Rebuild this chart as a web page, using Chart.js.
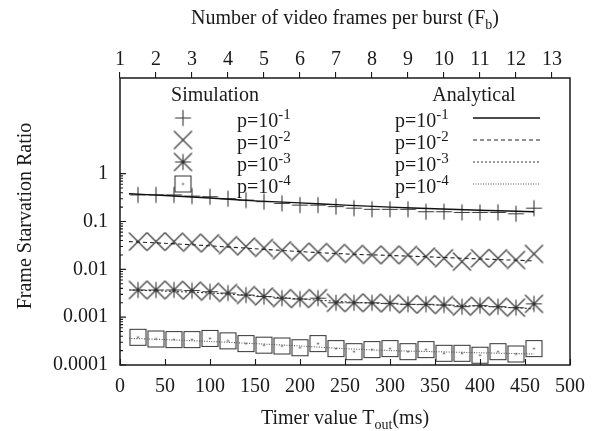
<!DOCTYPE html>
<html>
<head>
<meta charset="utf-8">
<script src="https://cdn.jsdelivr.net/npm/chart.js@4/dist/chart.umd.min.js"></script>
<style>
  html, body { margin: 0; padding: 0; background: #fff; }
  #wrap { width: 603px; height: 431px; }
</style>
</head>
<body>
<div id="wrap"><canvas id="c" width="603" height="431"></canvas></div>
<script>
// Timer values (ms) at which the simulation was run
const timerMs = [20, 40, 60, 80, 100, 120, 140, 160, 180, 200, 220, 240, 260, 280, 300, 320, 340, 360, 380, 400, 420, 440, 460];

// Simulated frame starvation ratio, one array per loss probability p
const simP1 = [0.36, 0.36, 0.36, 0.34, 0.33, 0.30, 0.28, 0.26, 0.24, 0.22, 0.22, 0.205, 0.19, 0.18, 0.18, 0.18, 0.16, 0.16, 0.155, 0.155, 0.155, 0.145, 0.19];
const simP2 = [0.038, 0.038, 0.038, 0.036, 0.035, 0.032, 0.030, 0.028, 0.025, 0.023, 0.023, 0.022, 0.021, 0.020, 0.020, 0.020, 0.0185, 0.017, 0.0145, 0.017, 0.017, 0.0157, 0.021];
const simP3 = [0.0037, 0.0037, 0.0037, 0.0036, 0.0034, 0.0032, 0.0029, 0.0027, 0.0025, 0.0024, 0.0025, 0.0020, 0.0020, 0.0020, 0.00195, 0.00186, 0.00186, 0.0018, 0.00166, 0.00174, 0.00166, 0.00158, 0.0019];
const simP4 = [0.00038, 0.00035, 0.00034, 0.00034, 0.00036, 0.00032, 0.00028, 0.00026, 0.00025, 0.00023, 0.00028, 0.00022, 0.00019, 0.00021, 0.00022, 0.00019, 0.00021, 0.000176, 0.000176, 0.00016, 0.00019, 0.00017, 0.00022];

// Analytical model curves
const analyticMs = [10, 50, 100, 150, 200, 250, 300, 350, 400, 460];
const anaP1 = [0.38, 0.35, 0.31, 0.27, 0.245, 0.22, 0.20, 0.185, 0.172, 0.16];
const anaP2 = [0.038, 0.035, 0.031, 0.027, 0.0235, 0.021, 0.0195, 0.018, 0.0165, 0.015];
const anaP3 = [0.0037, 0.0035, 0.0032, 0.0028, 0.0024, 0.0021, 0.0019, 0.0018, 0.0017, 0.0015];
const anaP4 = [0.00036, 0.00034, 0.00031, 0.00028, 0.00025, 0.00022, 0.0002, 0.00019, 0.00018, 0.00017];

// Axis ticks
const bottomTicks = [0, 50, 100, 150, 200, 250, 300, 350, 400, 450, 500];
const topTicks = [1, 2, 3, 4, 5, 6, 7, 8, 9, 10, 11, 12, 13];
const yTicks = [0.0001, 0.001, 0.01, 0.1, 1];
const yTickLabels = ['0.0001', '0.001', '0.01', '0.1', '1'];
const exponents = ['-1', '-2', '-3', '-4'];

const FONT = '"Liberation Serif", "Times New Roman", serif';
const INK = '#1a1a1a';
const MARK = '#333';

// ---- point glyphs ----
function glyph(kind) {
  const s = 21, c = s / 2;
  const cv = document.createElement('canvas');
  cv.width = s; cv.height = s;
  const g = cv.getContext('2d');
  g.strokeStyle = MARK; g.fillStyle = MARK; g.lineWidth = 1.1;
  g.beginPath();
  if (kind === 'plus' || kind === 'star') {
    g.moveTo(c - 8, c); g.lineTo(c + 8, c);
    g.moveTo(c, c - 8); g.lineTo(c, c + 8);
  }
  if (kind === 'cross' || kind === 'star') {
    g.moveTo(c - 9, c - 9); g.lineTo(c + 9, c + 9);
    g.moveTo(c - 9, c + 9); g.lineTo(c + 9, c - 9);
  }
  if (kind === 'box') {
    g.rect(c - 8, c - 8, 16, 16);
  }
  g.stroke();
  if (kind === 'box') g.fillRect(c - 0.8, c - 0.8, 1.6, 1.6);
  return cv;
}
const glyphs = [glyph('plus'), glyph('cross'), glyph('star'), glyph('box')];
const dashes = [[], [4, 3], [2, 2], [1, 1.5]];
const lineColors = ['#111', '#222', '#333', '#555'];

const pts = (xs, ys) => xs.map((x, i) => ({ x: x, y: ys[i] }));
const sims = [simP1, simP2, simP3, simP4];
const anas = [anaP1, anaP2, anaP3, anaP4];

const datasets = [];
anas.forEach((a, i) => datasets.push({
  label: 'Analytical p=10' + exponents[i],
  data: pts(analyticMs, a),
  borderColor: lineColors[i], borderWidth: i === 0 ? 1.4 : 1.1,
  borderDash: dashes[i], pointRadius: 0, tension: 0.3, fill: false
}));
sims.forEach((s, i) => datasets.push({
  label: 'Simulation p=10' + exponents[i],
  data: pts(timerMs, s),
  showLine: false, pointStyle: glyphs[i], pointRadius: 9, pointHoverRadius: 9
}));

// draws text made of runs with their own size and vertical shift (sub/superscripts)
function richText(ctx, parts, x, y, align) {
  let total = 0;
  const widths = parts.map(p => { ctx.font = p[1] + 'px ' + FONT; const w = ctx.measureText(p[0]).width; total += w; return w; });
  let cx = align === 'center' ? x - total / 2 : x;
  parts.forEach((p, i) => {
    ctx.font = p[1] + 'px ' + FONT;
    ctx.fillText(p[0], cx, y + p[2]);
    cx += widths[i];
  });
}

const framePlugin = {
  id: 'frameAndKey',
  afterDraw(chart) {
    const { ctx, chartArea: a, scales } = chart;
    ctx.save();
    // border box
    ctx.strokeStyle = INK; ctx.lineWidth = 1.5;
    ctx.strokeRect(a.left, a.top, a.right - a.left, a.bottom - a.top);
    // inward ticks on bottom and left axes
    ctx.lineWidth = 1.1;
    ctx.beginPath();
    bottomTicks.forEach(v => {
      const px = Math.round(scales.x.getPixelForValue(v)) + 0.5;
      ctx.moveTo(px, a.bottom); ctx.lineTo(px, a.bottom - 6);
    });
    yTicks.forEach((v, i) => {
      const py = scales.y.getPixelForValue(v);
      ctx.moveTo(a.left, py); ctx.lineTo(a.left + 6, py);
      if (i < yTicks.length - 1) {
        for (let m = 2; m <= 9; m++) {
          const pm = scales.y.getPixelForValue(v * m);
          ctx.moveTo(a.left, pm); ctx.lineTo(a.left + 3, pm);
        }
      }
    });
    ctx.stroke();

    // axis titles
    ctx.fillStyle = INK;
    ctx.textBaseline = 'alphabetic';
    ctx.textAlign = 'left';
    const midX = (a.left + a.right) / 2;
    richText(ctx, [['Timer value T', 20, 0], ['out', 14, 5], ['(ms)', 20, 0]], midX, 424, 'center');
    richText(ctx, [['Number of video frames per burst (F', 20, 0], ['b', 14, 5], [')', 20, 0]], midX, 24, 'center');
    ctx.save();
    ctx.translate(31, 216);
    ctx.rotate(-Math.PI / 2);
    richText(ctx, [['Frame Starvation Ratio', 20, 0]], 0, 0, 'center');
    ctx.restore();

    // key: simulation column
    richText(ctx, [['Simulation', 20, 0]], 215, 101, 'center');
    richText(ctx, [['Analytical', 20, 0]], 474, 101, 'center');
    for (let i = 0; i < 4; i++) {
      const ry = 118 + 22 * i;
      const gl = glyphs[i];
      ctx.drawImage(gl, 183 - gl.width / 2, ry - gl.height / 2);
      richText(ctx, [['p=10', 20, 0], [exponents[i], 15, -8]], 237, ry + 9, 'left');
      richText(ctx, [['p=10', 20, 0], [exponents[i], 15, -8]], 395, ry + 9, 'left');
      ctx.save();
      ctx.strokeStyle = lineColors[i];
      ctx.lineWidth = i === 0 ? 1.4 : 1.1;
      ctx.setLineDash(dashes[i]);
      ctx.beginPath();
      ctx.moveTo(473, ry); ctx.lineTo(540, ry);
      ctx.stroke();
      ctx.restore();
    }
    ctx.restore();
  }
};

Chart.defaults.font.family = FONT;
Chart.defaults.font.size = 20;
Chart.defaults.color = INK;

new Chart(document.getElementById('c'), {
  type: 'line',
  data: { datasets: datasets },
  options: {
    responsive: false,
    devicePixelRatio: 1,
    animation: false,
    layout: { padding: { left: 0, right: 33, top: 0, bottom: 0 } },
    plugins: { legend: { display: false }, tooltip: { enabled: false } },
    scales: {
      x: {
        type: 'linear', position: 'bottom', min: 0, max: 500,
        afterBuildTicks: s => { s.ticks = bottomTicks.map(v => ({ value: v })); },
        afterFit: s => { s.height = 66; },
        grid: { display: false, drawTicks: false },
        border: { display: false },
        ticks: { padding: 10, maxRotation: 0, autoSkip: false, color: INK }
      },
      x2: {
        type: 'linear', position: 'top', min: 1, max: 13.5,
        afterBuildTicks: s => { s.ticks = topTicks.map(v => ({ value: v })); },
        afterFit: s => { s.height = 78; },
        grid: { display: true, drawOnChartArea: false, drawTicks: true, tickLength: 6, color: INK, lineWidth: 1.1 },
        border: { display: false },
        ticks: { padding: 0, maxRotation: 0, autoSkip: false, color: INK }
      },
      y: {
        type: 'logarithmic', position: 'left', min: 0.0001, max: 100,
        afterBuildTicks: s => { s.ticks = yTicks.map(v => ({ value: v })); },
        afterFit: s => { s.width = 120; },
        grid: { display: false, drawTicks: false },
        border: { display: false },
        ticks: { padding: 12, autoSkip: false, color: INK, callback: (v, i) => yTickLabels[i] }
      }
    }
  },
  plugins: [framePlugin]
});
</script>
</body>
</html>
